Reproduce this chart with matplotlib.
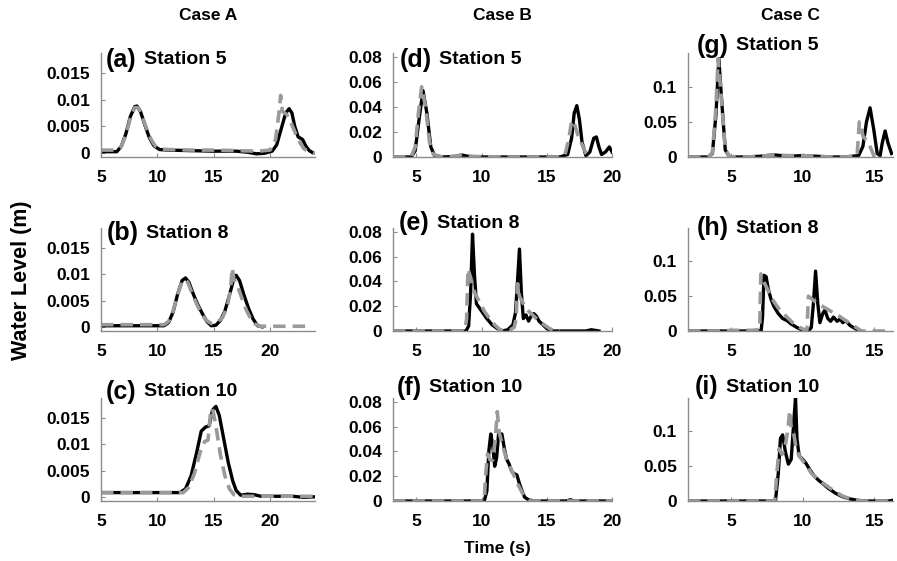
import matplotlib
matplotlib.use("Agg")
import matplotlib.pyplot as plt

plt.rcParams['font.family'] = ['Liberation Sans', 'DejaVu Sans']
plt.rcParams['font.weight'] = 'bold'
plt.rcParams['lines.scale_dashes'] = False

# ---------------- data (time s, water level m) ----------------
a_t_black = [5, 6.4, 6.8, 7.2, 7.6, 8.0, 8.2, 8.5, 8.9, 9.3, 9.7, 10.2, 11, 13, 15, 17, 18, 18.8, 19.5, 20.2, 20.6, 21.0, 21.4, 21.7, 21.95, 22.2, 22.5, 22.9, 23.2, 23.5, 23.8, 24]
a_y_black = [0.0002, 0.0002, 0.0012, 0.0035, 0.0068, 0.0087, 0.0088, 0.0078, 0.0052, 0.0028, 0.0013, 0.0006, 0.0005, 0.0004, 0.0003, 0.0003, 0.0001, -0.0002, -0.0001, 0.0003, 0.0015, 0.0045, 0.0075, 0.0083, 0.0075, 0.005, 0.003, 0.0025, 0.0012, 0.0004, 0, 0]
a_t_gray = [5, 6.4, 6.8, 7.2, 7.6, 8.0, 8.3, 8.6, 9.0, 9.4, 9.8, 10.3, 11, 13, 15, 17, 19, 20.0, 20.5, 20.8, 20.95, 21.1, 21.5, 21.9, 22.3, 22.7, 23.0, 23.4, 24]
a_y_gray = [0.0005, 0.0005, 0.0012, 0.0033, 0.0065, 0.0085, 0.0085, 0.0072, 0.0048, 0.0027, 0.0013, 0.0007, 0.0006, 0.0005, 0.0005, 0.0004, 0.0003, 0.0005, 0.0025, 0.0075, 0.0108, 0.0078, 0.0072, 0.0055, 0.0035, 0.0018, 0.0008, 0.0002, 0.0]

b_t_black = [5, 10.6, 11.0, 11.4, 11.8, 12.2, 12.5, 12.8, 13.2, 13.6, 14.0, 14.4, 14.8, 15.2, 15.6, 16.0, 16.4, 16.8, 17.0, 17.3, 17.7, 18.1, 18.5, 18.9, 19.3]
b_y_black = [0.0002, 0.0002, 0.0008, 0.0028, 0.0062, 0.0088, 0.0093, 0.0085, 0.0062, 0.0042, 0.0025, 0.0010, 0.0002, 0.0003, 0.0012, 0.003, 0.006, 0.0092, 0.0098, 0.0088, 0.006, 0.0035, 0.0015, 0.0002, 0]
b_t_gray = [5, 10.6, 11.0, 11.4, 11.8, 12.2, 12.4, 12.7, 13.1, 13.5, 13.9, 14.3, 14.8, 15.3, 15.8, 16.2, 16.5, 16.65, 16.8, 17.1, 17.5, 17.9, 18.3, 18.7, 19.1, 20, 23.5]
b_y_gray = [0.0004, 0.0004, 0.001, 0.003, 0.0062, 0.0087, 0.009, 0.0085, 0.0063, 0.0043, 0.0026, 0.0013, 0.0006, 0.0008, 0.0018, 0.0038, 0.007, 0.0112, 0.009, 0.0078, 0.0055, 0.0032, 0.0015, 0.0005, 0.0001, 0.0001, 0.0001]

c_t_black = [5, 12.0, 12.5, 13.0, 13.5, 13.9, 14.3, 14.6, 14.9, 15.2, 15.5, 15.9, 16.3, 16.7, 17.0, 17.4, 18, 18.6, 19.2, 20, 22, 23, 24]
c_y_black = [0.0008, 0.0008, 0.0015, 0.004, 0.0085, 0.0125, 0.0133, 0.0135, 0.0165, 0.0172, 0.0155, 0.011, 0.0065, 0.003, 0.0012, 0.0003, 0.0005, 0.0004, 0.0001, 0.0001, 0.0001, -0.0001, 0]
c_t_gray = [5, 12.3, 12.8, 13.3, 13.8, 14.2, 14.5, 14.75, 14.9, 15.2, 15.6, 16.0, 16.4, 16.8, 17.5, 24]
c_y_gray = [0.0008, 0.0008, 0.0018, 0.0045, 0.0085, 0.0105, 0.0108, 0.0165, 0.0168, 0.0135, 0.008, 0.004, 0.0015, 0.0004, 0.0001, 0.0001]

d_t_black = [3.2, 4.6, 4.9, 5.2, 5.5, 5.8, 6.1, 6.4, 7, 8, 8.5, 9, 10, 12, 14, 16, 16.6, 16.9, 17.1, 17.3, 17.5, 17.7, 18.0, 18.3, 18.6, 18.8, 19.0, 19.2, 19.5, 19.8, 20]
d_y_black = [0, 0, 0.005, 0.03, 0.053, 0.035, 0.008, 0.001, 0, 0.0005, 0.0015, 0.0005, 0, 0, 0, 0, 0.002, 0.015, 0.035, 0.041, 0.03, 0.012, 0.001, 0.004, 0.015, 0.016, 0.008, 0.002, 0.004, 0.008, 0.004]
d_t_gray = [3.2, 4.6, 4.9, 5.15, 5.4, 5.7, 6.0, 6.3, 7, 8, 8.5, 9, 12, 16, 16.4, 16.7, 16.9, 17.1, 17.4, 17.7, 18.0, 18.3]
d_y_gray = [0, 0, 0.008, 0.035, 0.056, 0.04, 0.012, 0.002, 0, 0.0005, 0.002, 0.0005, 0, 0, 0.002, 0.015, 0.029, 0.027, 0.017, 0.01, 0.003, 0]

e_t_black = [3.2, 8.8, 9.0, 9.15, 9.3, 9.45, 9.6, 9.8, 10.0, 10.4, 10.8, 11.2, 11.6, 12.0, 12.4, 12.6, 12.75, 12.9, 13.05, 13.2, 13.4, 13.6, 13.8, 14.0, 14.2, 14.4, 14.7, 15.0, 15.4, 16, 18, 18.4, 18.7, 19]
e_y_black = [0, 0, 0.004, 0.03, 0.078, 0.045, 0.022, 0.019, 0.016, 0.01, 0.005, 0.002, 0, 0.001, 0.005, 0.015, 0.04, 0.066, 0.03, 0.01, 0.013, 0.008, 0.012, 0.014, 0.012, 0.008, 0.005, 0.002, 0, 0, 0, 0.001, 0.0005, 0]
e_t_gray = [3.2, 8.7, 8.85, 8.95, 9.1, 9.3, 9.5, 9.8, 10.2, 10.6, 11.0, 11.4, 11.8, 12.2, 12.5, 12.65, 12.75, 12.9, 13.2, 13.6, 14.0, 14.4, 14.8, 15.2, 15.6, 16]
e_y_gray = [0, 0, 0.01, 0.05, 0.045, 0.036, 0.03, 0.024, 0.016, 0.01, 0.005, 0.001, 0, 0.001, 0.003, 0.01, 0.038, 0.028, 0.022, 0.016, 0.012, 0.008, 0.005, 0.002, 0, 0]

f_t_black = [3.2, 10.2, 10.4, 10.55, 10.7, 10.85, 11.0, 11.15, 11.3, 11.55, 11.75, 11.9, 12.1, 12.3, 12.5, 12.7, 12.9, 13.1, 13.3, 13.6, 14, 16.5, 16.8, 17.1, 20]
f_y_black = [0, 0, 0.008, 0.04, 0.054, 0.045, 0.028, 0.035, 0.054, 0.054, 0.042, 0.034, 0.03, 0.024, 0.022, 0.021, 0.014, 0.008, 0.003, 0.001, 0, 0, 0.001, 0, 0]
f_t_gray = [3.2, 10.2, 10.3, 10.45, 10.65, 10.85, 11.05, 11.2, 11.35, 11.6, 11.9, 12.2, 12.5, 12.8, 13.1, 13.4, 13.7, 20]
f_y_gray = [0, 0, 0.02, 0.038, 0.033, 0.033, 0.05, 0.072, 0.055, 0.045, 0.034, 0.027, 0.02, 0.013, 0.007, 0.003, 0, 0]

g_t_black = [2, 3.4, 3.7, 3.95, 4.15, 4.35, 4.6, 4.9, 6, 7, 8, 9, 10, 11, 12, 13, 13.9, 14.2, 14.45, 14.7, 14.95, 15.2, 15.4, 15.55, 15.75, 15.95, 16.2]
g_y_black = [0, 0, 0.005, 0.06, 0.14, 0.08, 0.01, 0, 0, 0.001, 0.003, 0.001, 0.002, 0.001, 0, 0, 0.002, 0.015, 0.05, 0.07, 0.04, 0.005, 0.002, 0.02, 0.037, 0.02, 0.005]
g_t_gray = [2, 3.4, 3.7, 3.95, 4.1, 4.3, 4.6, 4.9, 6, 7, 8, 9, 10, 11, 12, 13, 13.8, 13.95, 14.05, 14.2, 14.4, 14.6, 14.8, 15.0]
g_y_gray = [0, 0, 0.006, 0.07, 0.14, 0.09, 0.012, 0, 0, 0.001, 0.003, 0.002, 0.002, 0.001, 0, 0, 0.002, 0.05, 0.045, 0.03, 0.025, 0.02, 0.01, 0]

h_t_black = [2, 7.1, 7.2, 7.3, 7.45, 7.6, 7.8, 8.0, 8.3, 8.6, 8.9, 9.2, 9.6, 10.0, 10.4, 10.6, 10.75, 10.9, 11.05, 11.2, 11.4, 11.55, 11.75, 11.95, 12.15, 12.4, 12.6, 12.8, 13.0, 13.3, 13.7, 14.0]
h_y_black = [0, 0, 0.02, 0.08, 0.078, 0.06, 0.045, 0.035, 0.025, 0.018, 0.015, 0.01, 0.005, 0.001, 0, 0.005, 0.04, 0.086, 0.04, 0.012, 0.025, 0.03, 0.018, 0.014, 0.02, 0.014, 0.017, 0.012, 0.015, 0.008, 0.003, 0]
h_t_gray = [2, 4.5, 5, 6.5, 7.0, 7.08, 7.25, 7.5, 7.9, 8.3, 8.8, 9.3, 9.8, 10.2, 10.3, 10.4, 10.7, 11.0, 11.5, 12.0, 12.5, 13.0, 13.5, 14.1, 16]
h_y_gray = [0, 0, 0.001, 0.001, 0.002, 0.082, 0.072, 0.062, 0.045, 0.033, 0.022, 0.012, 0.005, 0.001, 0.002, 0.05, 0.045, 0.04, 0.034, 0.028, 0.022, 0.015, 0.008, 0, 0]

i_t_black = [2, 8.1, 8.3, 8.45, 8.6, 8.8, 9.0, 9.2, 9.4, 9.5, 9.6, 9.75, 10.0, 10.2, 10.5, 10.8, 11.1, 11.4, 11.8, 12.3, 12.8, 13.3, 13.8, 14.3, 16, 16.3]
i_y_black = [0, 0, 0.04, 0.09, 0.095, 0.07, 0.053, 0.06, 0.12, 0.148, 0.09, 0.065, 0.06, 0.055, 0.045, 0.036, 0.03, 0.025, 0.018, 0.011, 0.006, 0.003, 0.001, 0, 0, 0.001]
i_t_gray = [2, 8.05, 8.2, 8.35, 8.55, 8.75, 8.95, 9.1, 9.2, 9.35, 9.55, 9.75, 10.0, 10.3, 10.6, 11.0, 11.4, 11.8, 12.3, 12.8, 13.3, 13.8, 14.3, 16.3]
i_y_gray = [0, 0, 0.04, 0.075, 0.067, 0.075, 0.1, 0.13, 0.105, 0.1, 0.075, 0.065, 0.058, 0.05, 0.04, 0.032, 0.026, 0.02, 0.013, 0.007, 0.003, 0.001, 0, 0]

case_titles = ['Case A', 'Case B', 'Case C']
panel_letters = ['(a)', '(b)', '(c)', '(d)', '(e)', '(f)', '(g)', '(h)', '(i)']
station_names = ['Station 5', 'Station 8', 'Station 10']

xticks_cols = [[5, 10, 15, 20], [5, 10, 15, 20], [5, 10, 15]]
yticks_cols = [[0, 0.005, 0.01, 0.015], [0, 0.02, 0.04, 0.06, 0.08], [0, 0.05, 0.1]]
ytick_labels_cols = [['0', '0.005', '0.01', '0.015'], ['0', '0.02', '0.04', '0.06', '0.08'], ['0', '0.05', '0.1']]
xlim_cols = [(5, 24), (3.2, 20), (2, 16.3)]
ylim_cols = [(-0.0008, 0.0188), (0, 0.083), (0, 0.148)]

series = [
    [(a_t_black, a_y_black, a_t_gray, a_y_gray), (b_t_black, b_y_black, b_t_gray, b_y_gray), (c_t_black, c_y_black, c_t_gray, c_y_gray)],
    [(d_t_black, d_y_black, d_t_gray, d_y_gray), (e_t_black, e_y_black, e_t_gray, e_y_gray), (f_t_black, f_y_black, f_t_gray, f_y_gray)],
    [(g_t_black, g_y_black, g_t_gray, g_y_gray), (h_t_black, h_y_black, h_t_gray, h_y_gray), (i_t_black, i_y_black, i_t_gray, i_y_gray)],
]

# ---------------- layout (pixels) ----------------
W, H = 897, 561
fig = plt.figure(figsize=(W / 100, H / 100), dpi=100)

col_x = [(101, 315), (393, 612), (688, 893)]
row_y = [(53, 157), (228, 331), (398, 501)]
label_pos = [
    [(106, 60), (107, 233), (106, 392)],
    [(400, 60), (399, 223), (397, 388)],
    [(697, 46), (697, 228), (695, 387)],
]

spine_col = '#8c8c8c'
gray_col = '#9a9a9a'

for c in range(3):
    for r in range(3):
        x0, x1 = col_x[c]
        y0, y1 = row_y[r]
        ax = fig.add_axes([x0 / W, 1 - y1 / H, (x1 - x0) / W, (y1 - y0) / H])
        tb, yb, tg, yg = series[c][r]
        ax.plot(tb, yb, color='black', lw=2.4, solid_joinstyle='round')
        ax.plot(tg, yg, color=gray_col, lw=2.6, dashes=(9, 5))
        ax.set_xlim(*xlim_cols[c])
        ax.set_ylim(*ylim_cols[c])
        ax.set_xticks(xticks_cols[c])
        ax.set_yticks(yticks_cols[c])
        ax.set_yticklabels(ytick_labels_cols[c])
        for s in ['top', 'right']:
            ax.spines[s].set_visible(False)
        for s in ['left', 'bottom']:
            ax.spines[s].set_color(spine_col)
            ax.spines[s].set_linewidth(1.0)
        ax.tick_params(direction='in', length=3, color=spine_col, labelsize=12.5)
        ax.tick_params(axis='x', pad=9.5)
        ax.tick_params(axis='y', pad=8)
        for lab in ax.get_xticklabels() + ax.get_yticklabels():
            lab.set_fontweight('bold')
        ax.patch.set_visible(False)

        lx, ly = label_pos[c][r]
        t1 = fig.text(lx / W, 1 - ly / H, panel_letters[c * 3 + r], fontsize=18,
                      fontweight='bold', va='center', ha='left')
        ax.annotate(station_names[r], xy=(1, 0.5), xycoords=t1, xytext=(5, 0),
                    textcoords='offset points', va='center', ha='left',
                    fontsize=14, fontweight='bold', annotation_clip=False)

for c in range(3):
    cx = (col_x[c][0] + col_x[c][1]) / 2
    fig.text(cx / W, 1 - 15 / H, case_titles[c], fontsize=12.5, fontweight='bold',
             ha='center', va='center')

fig.text(22 / W, 1 - 280 / H, 'Water Level (m)', fontsize=15.5, fontweight='bold',
         rotation=90, ha='center', va='center')
fig.text(497 / W, 1 - 548 / H, 'Time (s)', fontsize=12.5, fontweight='bold',
         ha='center', va='center')

fig.savefig('out.png', dpi=100)
